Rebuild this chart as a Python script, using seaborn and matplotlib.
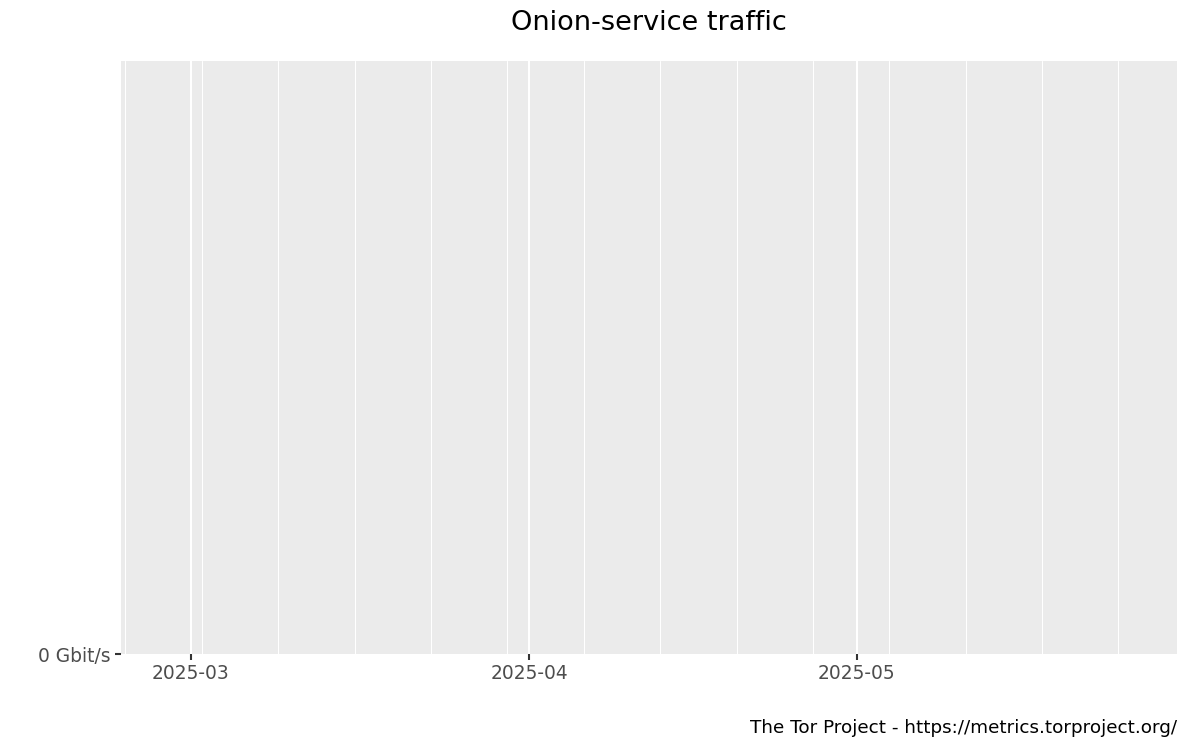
import matplotlib
matplotlib.use("Agg")
import matplotlib.pyplot as plt
import matplotlib.dates as mdates
import numpy as np
import pandas as pd
import seaborn as sns

# Data (the chart has no plotted series)
dates = pd.to_datetime(pd.Series([], dtype="datetime64[ns]"))
traffic_gbit = pd.Series([], dtype=float)
x_start = "2025-02-22 14:30"
x_end = "2025-05-30 08:40"
month_ticks = ["2025-03-01", "2025-04-01", "2025-05-01"]
month_labels = ["2025-03", "2025-04", "2025-05"]
week_lines = ["2025-02-23", "2025-03-02", "2025-03-09", "2025-03-16", "2025-03-23",
              "2025-03-30", "2025-04-06", "2025-04-13", "2025-04-20", "2025-04-27",
              "2025-05-04", "2025-05-11", "2025-05-18", "2025-05-25"]
y_ticks = [0]
y_labels = ["0 Gbit/s"]
title = "Onion-service traffic"
caption = "The Tor Project - https://metrics.torproject.org/"

sns.set_theme(style="darkgrid", rc={
    "axes.facecolor": "#EBEBEB",
    "grid.color": "white",
    "axes.edgecolor": "#EBEBEB",
    "xtick.bottom": True,
    "ytick.left": True,
})
plt.rcParams["font.family"] = ["DejaVu Sans"]

fig = plt.figure(figsize=(12, 7.5), dpi=100)
ax = fig.add_axes([121 / 1200, 1 - 654 / 750, (1177 - 121) / 1200, (654 - 61) / 750])

df = pd.DataFrame({"date": dates, "traffic": traffic_gbit})
sns.lineplot(data=df, x="date", y="traffic", ax=ax)

ax.set_xlim(pd.Timestamp(x_start), pd.Timestamp(x_end))
ax.set_ylim(0, 1)

ax.set_xticks(pd.to_datetime(month_ticks))
ax.set_xticklabels(month_labels)
ax.set_xticks(pd.to_datetime(week_lines), minor=True)
ax.set_yticks(y_ticks)
ax.set_yticklabels(y_labels)

ax.grid(False)
ax.grid(True, which="major", axis="x", color="white", linewidth=1.5)
ax.grid(True, which="minor", axis="x", color="white", linewidth=0.75)

for s in ax.spines.values():
    s.set_visible(False)

ax.tick_params(axis="both", which="major", bottom=True, left=True, length=4.5,
               width=1.5, color="#333333", labelsize=13.4, labelcolor="#4D4D4D", pad=3)
ax.tick_params(axis="x", which="minor", length=0)
ax.set_xlabel("")
ax.set_ylabel("")

fig.text((121 + 1177) / 2 / 1200, 1 - 23 / 750, title, ha="center", va="center",
         fontsize=19.5, color="black")
fig.text(1177 / 1200, 1 - 728 / 750, caption, ha="right", va="center",
         fontsize=13.2, color="black")

fig.savefig("out.png", dpi=100)
